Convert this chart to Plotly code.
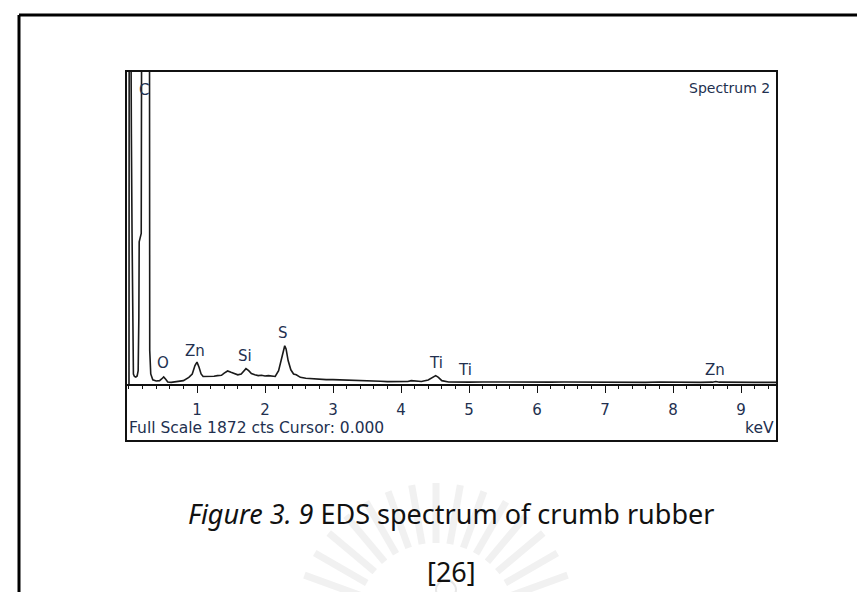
import math
import plotly.graph_objects as go

# ---------------- data ----------------
energy_kev = [
    0.000, 0.004, 0.020, 0.025, 0.035, 0.045, 0.055, 0.065, 0.080, 0.100,
    0.120, 0.135, 0.145, 0.150, 0.180, 0.190, 0.300, 0.305, 0.320, 0.350,
    0.400, 0.450, 0.480, 0.510, 0.540, 0.570, 0.620, 0.700, 0.800, 0.880,
    0.930, 0.970, 1.000, 1.030, 1.060, 1.090, 1.150, 1.200, 1.250, 1.300,
    1.360, 1.400, 1.450, 1.500, 1.550, 1.600, 1.650, 1.690, 1.720, 1.760,
    1.800, 1.850, 1.900, 1.950, 2.000, 2.050, 2.100, 2.150, 2.200, 2.240,
    2.270, 2.290, 2.310, 2.340, 2.380, 2.420, 2.460, 2.520, 2.600, 2.700,
    2.800, 2.900, 3.000, 3.100, 3.200, 3.300, 3.400, 3.500, 3.600, 3.700,
    3.800, 3.900, 4.000, 4.100, 4.150, 4.200, 4.300, 4.400, 4.480, 4.510,
    4.550, 4.600, 4.700, 4.800, 4.900, 5.000, 5.200, 5.400, 5.600, 5.800,
    6.000, 6.200, 6.400, 6.600, 6.800, 7.000, 7.200, 7.400, 7.600, 7.800,
    8.000, 8.200, 8.400, 8.580, 8.630, 8.680, 8.800, 9.000, 9.200, 9.400,
    9.530,
]
counts = [
    0, 3000, 3000, 1550, 1500, 900, 200, 60, 45, 42,
    48, 80, 400, 850, 900, 3000, 3000, 200, 60, 25,
    18, 20, 30, 42, 28, 12, 10, 14, 20, 40,
    60, 110, 131, 100, 60, 45, 45, 48, 46, 50,
    52, 65, 78, 70, 62, 55, 60, 80, 92, 80,
    62, 55, 50, 52, 48, 50, 46, 45, 80, 150,
    200, 229, 210, 140, 85, 60, 55, 40, 34, 30,
    28, 26, 26, 25, 24, 24, 22, 18, 17, 16,
    14, 14, 13, 15, 20, 18, 15, 24, 45, 50,
    40, 20, 12, 11, 12, 11, 12, 11, 12, 11,
    12, 11, 12, 11, 10, 12, 10, 10, 10, 12,
    10, 10, 10, 11, 15, 11, 10, 10, 10, 10,
    10,
]

peak_labels = ["C", "O", "Zn", "Si", "S", "Ti", "Ti", "Zn"]
peak_label_kev = [0.22, 0.50, 0.97, 1.71, 2.27, 4.51, 4.94, 8.62]
peak_label_cts = [1758, 126, 197, 167, 305, 126, 84, 84]

tick_values = [1, 2, 3, 4, 5, 6, 7, 8, 9]
tick_labels = ["1", "2", "3", "4", "5", "6", "7", "8", "9"]

full_scale = 1872
spectrum_name = "Spectrum 2"
footer_text = "Full Scale 1872 cts Cursor: 0.000"
unit_text = "keV"
caption = "<i>Figure 3. 9</i> EDS spectrum of crumb rubber"
reference = "[26]"

# ---------------- layout helpers ----------------
W, H = 865, 592
def fx(px):
    return px / W
def fy(py):
    return 1 - py / H

TXT = "#22304f"
CHART_FONT = "DejaVu Sans"

fig = go.Figure()
fig.add_trace(go.Scatter(
    x=energy_kev, y=counts, mode="lines",
    line=dict(color="#1a1a1a", width=1.6),
    hoverinfo="skip", showlegend=False,
))

for t, xk, yc in zip(peak_labels, peak_label_kev, peak_label_cts):
    fig.add_annotation(x=xk, y=yc, xref="x", yref="y", text=t, showarrow=False,
                       font=dict(family=CHART_FONT, size=15, color=TXT),
                       xanchor="center", yanchor="middle")

fig.update_layout(
    width=W, height=H,
    margin=dict(l=0, r=0, t=0, b=0),
    paper_bgcolor="white", plot_bgcolor="white",
    xaxis=dict(
        domain=[fx(118), fx(769)],
        range=[-0.044, 9.529],
        tickmode="array", tickvals=tick_values, ticktext=tick_labels,
        ticks="outside", ticklen=7, tickwidth=1.3, tickcolor="#111",
        showline=True, linecolor="#111", linewidth=1.5,
        showgrid=False, zeroline=False,
        tickfont=dict(family=CHART_FONT, size=15, color=TXT),
        ticklabelstandoff=4,
        minor=dict(dtick=0.2, tick0=0, ticks="outside", ticklen=3.5,
                   tickwidth=1.2, tickcolor="#111", showgrid=False),
        fixedrange=True,
    ),
    yaxis=dict(
        domain=[fy(376), fy(63)],
        range=[0, full_scale],
        visible=False, fixedrange=True,
    ),
)

shapes = []
# faint watermark (university emblem rays) behind the caption
cx, cy = 428, 615
for k in range(-8, 9):
    th = math.radians(k * 10)
    r1, r2 = 80, 140
    shapes.append(dict(
        type="line", xref="paper", yref="paper", layer="below",
        x0=fx(cx + r1 * math.sin(th)), y0=fy(cy - r1 * math.cos(th)),
        x1=fx(cx + r2 * math.sin(th)), y1=fy(cy - r2 * math.cos(th)),
        line=dict(color="#f1f1f1", width=7)))
shapes.append(dict(type="circle", xref="paper", yref="paper", layer="below",
                   x0=fx(428), x1=fx(448), y0=fy(592), y1=fy(572),
                   line=dict(color="#e8e8e8", width=2)))
shapes += [
    # chart frame
    dict(type="rect", xref="paper", yref="paper",
         x0=fx(118), x1=fx(769), y0=fy(433), y1=fy(63),
         line=dict(color="#111", width=2)),
    # page border
    dict(type="line", xref="paper", yref="paper",
         x0=fx(11), x1=fx(866), y0=fy(7), y1=fy(7),
         line=dict(color="black", width=3)),
    dict(type="line", xref="paper", yref="paper",
         x0=fx(11), x1=fx(11), y0=fy(7), y1=fy(593),
         line=dict(color="black", width=3)),
]
fig.update_layout(shapes=shapes)

fig.add_annotation(x=fx(764), y=fy(80), xref="paper", yref="paper",
                   text=spectrum_name, showarrow=False, xanchor="right", yanchor="middle",
                   font=dict(family=CHART_FONT, size=14, color=TXT))
fig.add_annotation(x=fx(119), y=fy(420), xref="paper", yref="paper",
                   text=footer_text, showarrow=False, xanchor="left", yanchor="middle",
                   font=dict(family=CHART_FONT, size=15.5, color=TXT))
fig.add_annotation(x=fx(768), y=fy(420), xref="paper", yref="paper",
                   text=unit_text, showarrow=False, xanchor="right", yanchor="middle",
                   font=dict(family=CHART_FONT, size=15.5, color=TXT))

fig.add_annotation(x=fx(443), y=fy(505), xref="paper", yref="paper",
                   text=caption, showarrow=False, xanchor="center", yanchor="middle",
                   font=dict(family="Noto Sans", size=27, color="#111"))
fig.add_annotation(x=fx(444), y=fy(563), xref="paper", yref="paper",
                   text=reference, showarrow=False, xanchor="center", yanchor="middle",
                   font=dict(family="Noto Sans", size=27, color="#111"))

fig.write_html("out.html")
